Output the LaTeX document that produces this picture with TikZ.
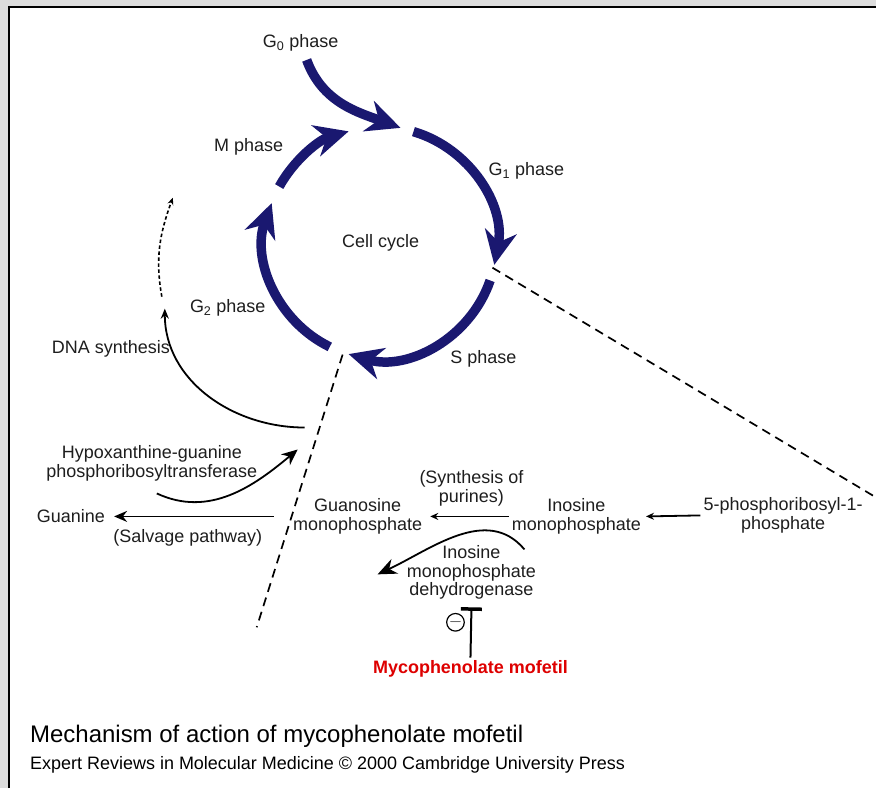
\documentclass[tikz,border=0pt]{standalone}
\usepackage{fontspec}
\setmainfont{Liberation Sans}
\usetikzlibrary{arrows.meta}
\definecolor{cycblue}{RGB}{26,24,112}
\definecolor{labelgray}{RGB}{30,30,30}
\definecolor{framegray}{RGB}{221,221,221}
\definecolor{drugred}{RGB}{222,0,0}
\begin{document}
\begin{tikzpicture}[x=1pt,y=1pt,
    every node/.style={font=\fontsize{18}{19}\selectfont, text=labelgray, align=center, inner sep=3pt},
    phasearc/.style={draw=cycblue, line width=9.5pt, -{Stealth[length=34pt,width=32pt,inset=11pt]}},
    thinline/.style={line width=1.8pt},
    cutline/.style={line width=1.7pt, dash pattern=on 9pt off 6pt}]
        \fill[framegray] (0,0) rectangle (877,-789);
        \fill[white] (9,-7) rectangle (877,-789);
        \draw[line width=2pt] (9,-789) -- (9,-7) -- (877,-7);
        \useasboundingbox (0,0) rectangle (877,-789);

        \node (cc) at (381,-243) {Cell cycle};
        \node (g0) at (301,-43) {G\textsubscript{0} phase};
        \node (mph) at (249,-147) {M phase};
        \node (g1) at (527,-171) {G\textsubscript{1} phase};
        \node (g2) at (228,-308) {G\textsubscript{2} phase};
        \node (sph) at (484,-359) {S phase};

        \draw[phasearc] ([shift={(73.5:116)}]cc.center) arc[start angle=73.5, end angle=-11, radius=116];
        \draw[phasearc] ([shift={(-19:116)}]cc.center) arc[start angle=-19, end angle=-106, radius=116];
        \draw[phasearc] ([shift={(-116:116)}]cc.center) arc[start angle=-116, end angle=-200, radius=116];
        \draw[phasearc] ([shift={(151:116)}]cc.center) arc[start angle=151, end angle=106, radius=116];
        \coordinate (g0s) at (307,-60);
        \coordinate (g0e) at (401,-128);
        \draw[phasearc] (g0s) to[out=-70,in=160] (g0e);

        \coordinate (cutr1) at (493,-268);
        \coordinate (cutr2) at (877,-498);
        \coordinate (cutl1) at (343,-355);
        \coordinate (cutl2) at (257,-628);
        \draw[cutline] (cutr1) -- (cutr2);
        \draw[cutline] (cutl1) -- (cutl2);

        \node (dna) at (111,-349) {DNA synthesis};
        \coordinate (dnas) at (305,-428);
        \coordinate (dnae) at (165,-309);
        \draw[thinline, -{Stealth[length=10pt,width=8pt]}] (dnas) to[out=180,in=-90] (dnae);
        \coordinate (dots) at (162,-297);
        \coordinate (dote) at (173,-198);
        \draw[line width=1.6pt, dash pattern=on 3.5pt off 2.5pt, -{Stealth[length=7pt,width=6pt]}] (dots) to[out=100,in=-110] (dote);

        \node (hgprt) at (152,-464) {Hypoxanthine-guanine\\phosphoribosyltransferase};
        \coordinate (hs) at (157,-494);
        \coordinate (he) at (298,-450);
        \draw[thinline, -{Stealth[length=16pt,width=14pt]}] (hs) to[out=-25,in=220] (he);

        \node (gua) at (71,-517) {Guanine};
        \node (salv) at (188,-538) {(Salvage pathway)};
        \node (gmp) at (358,-517) {Guanosine\\monophosphate};
        \node (synth) at (472,-489) {(Synthesis of\\purines)};
        \node (imp) at (577,-517) {Inosine\\monophosphate};
        \node (prpp) at (784,-516) {5-phosphoribosyl-1-\\phosphate};
        \draw[thinline, -{Stealth[length=13pt,width=11pt]}] ([xshift=-16pt]gmp.west) -- ([xshift=6pt]gua.east);
        \draw[thinline, -{Stealth[length=8pt,width=7pt]}] (imp.west) -- ([xshift=5pt]gmp.east);
        \draw[thinline, -{Stealth[length=8pt,width=7pt]}] (prpp.west) -- ([xshift=2pt]imp.east);

        \node (impdh) at (472,-573) {Inosine\\monophosphate\\dehydrogenase};
        \coordinate (ds) at (525,-550);
        \coordinate (de) at (378,-575);
        \draw[thinline, -{Stealth[length=19pt,width=16pt]}] (ds) to[out=130,in=25] (de);

        \node[text=drugred, font=\fontsize{18}{19}\selectfont\bfseries] (mmf) at (471,-670) {Mycophenolate mofetil};
        \coordinate (inh) at (472,-608);
        \draw[line width=2pt, -{Bar[width=21pt,line width=3.5pt]}] (mmf.north) -- (inh);
        \node[circle, draw, line width=1.2pt, inner sep=0pt, minimum size=15pt, font=\fontsize{16}{16}\selectfont] (minus) at (456,-623) {$-$};

        \node[anchor=west, inner sep=0pt, text=black, font=\fontsize{24}{24}\selectfont] (title) at (30,-737) {Mechanism of action of mycophenolate mofetil};
        \node[anchor=west, inner sep=0pt, text=black, font=\fontsize{18}{18}\selectfont] (credit) at (30,-766) {Expert Reviews in Molecular Medicine © 2000 Cambridge University Press};
    \end{tikzpicture}
\end{document}
